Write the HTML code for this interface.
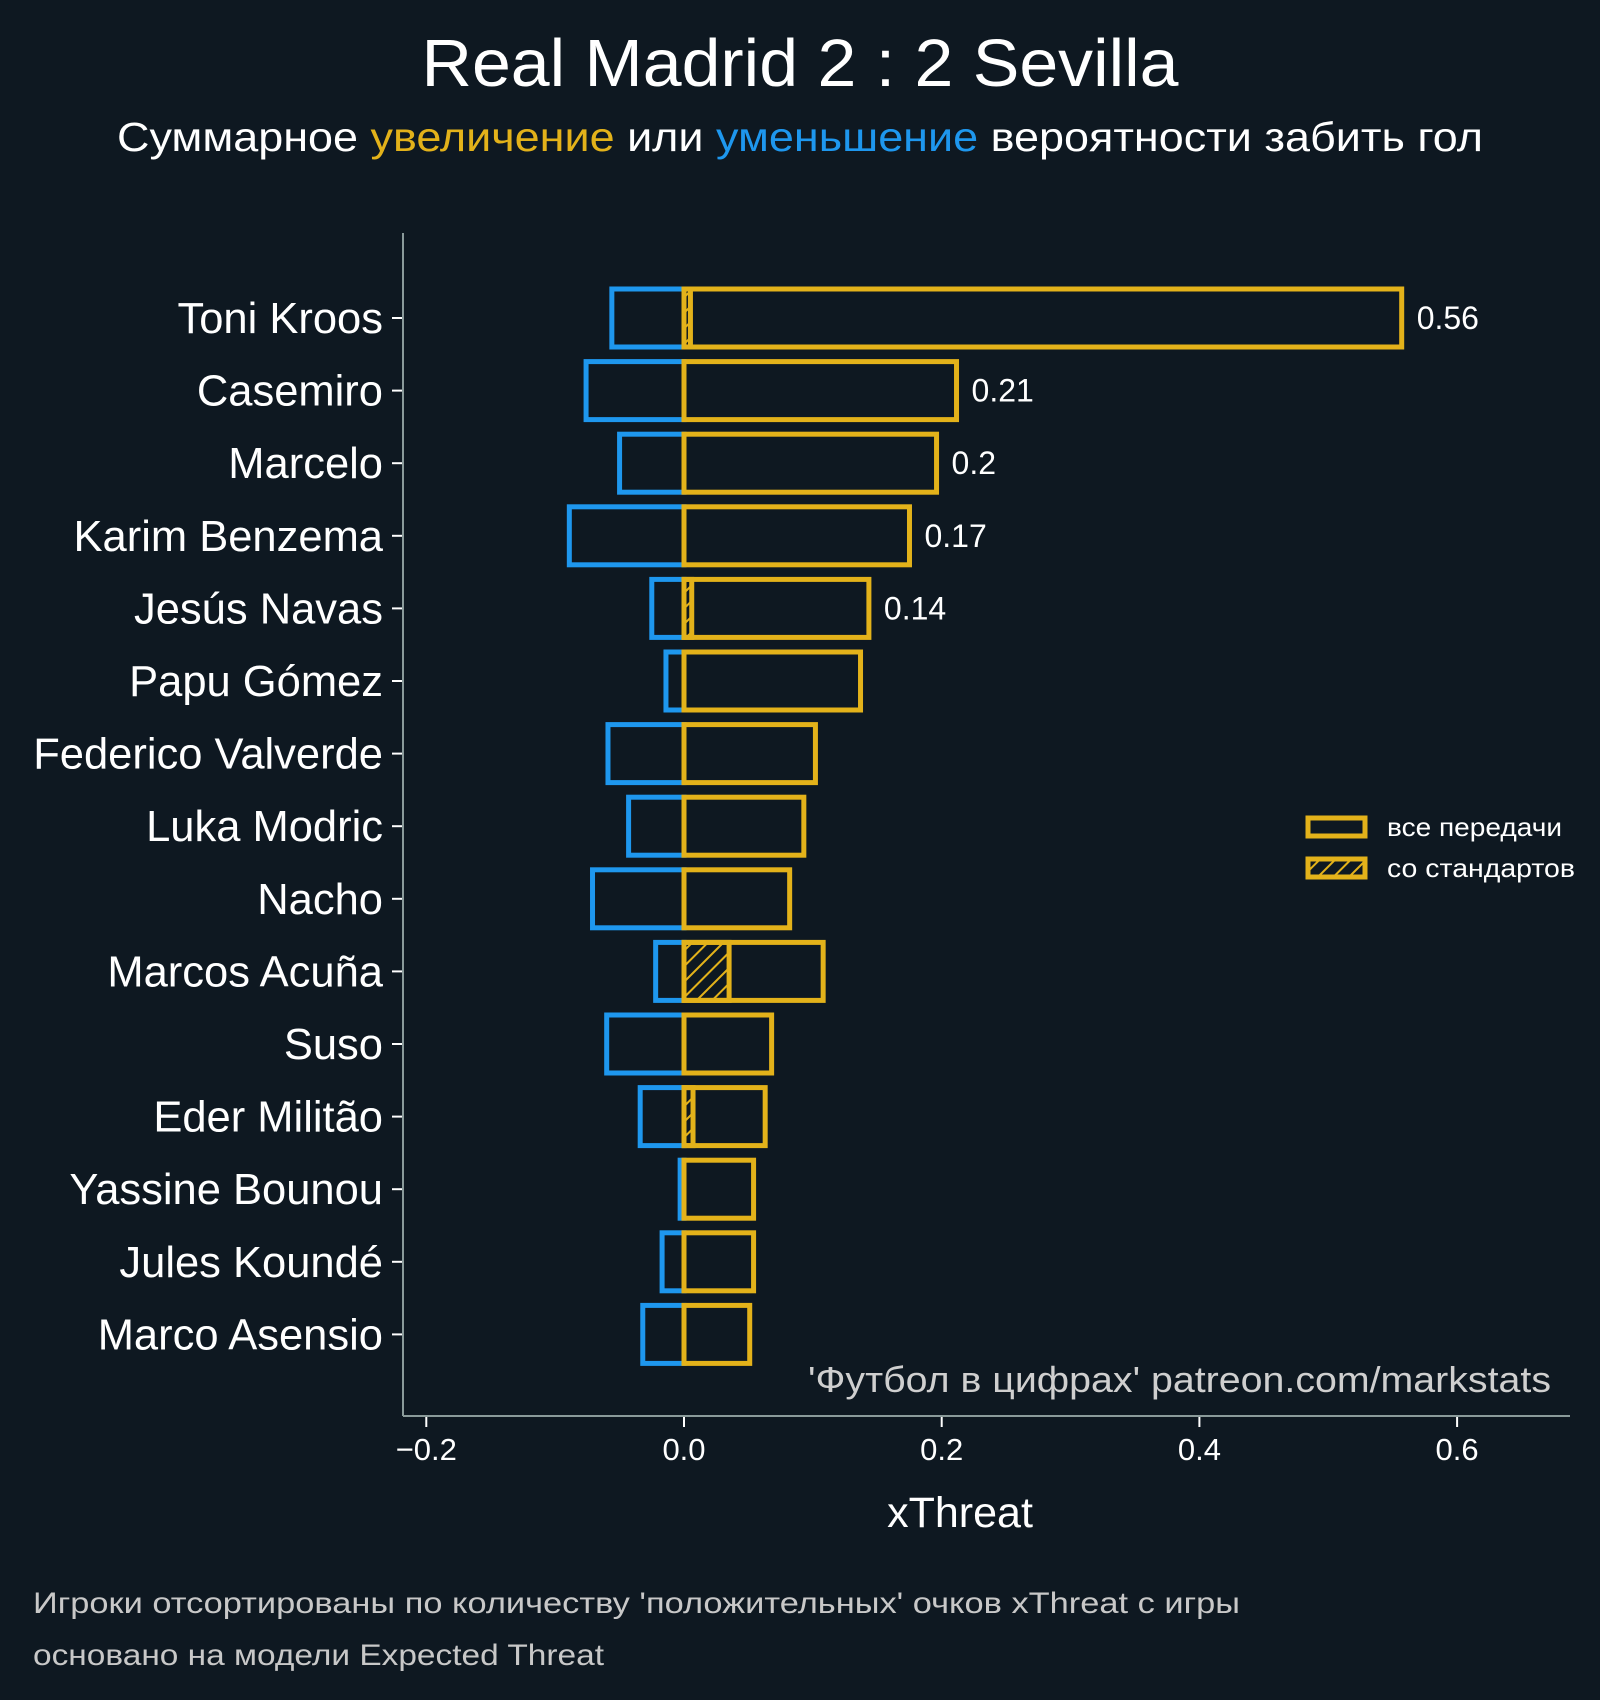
<!DOCTYPE html>
<html><head><meta charset="utf-8"><style>
html,body{margin:0;padding:0;background:#0e1821;}
svg{display:block;font-family:"Liberation Sans","DejaVu Sans",sans-serif;}
</style></head><body>
<svg id="chart" width="1600" height="1700" viewBox="0 0 1600 1700" xmlns="http://www.w3.org/2000/svg">
<defs>
<pattern id="hatch" patternUnits="userSpaceOnUse" width="11" height="11" patternTransform="rotate(45)">
<rect width="11" height="11" fill="#0e1821"/>
<line x1="0" y1="0" x2="0" y2="11" stroke="#e3b21a" stroke-width="4"/>
</pattern>
</defs>
<rect width="1600" height="1700" fill="#0e1821"/>
<text x="800" y="86" text-anchor="middle" font-size="67" fill="#ffffff" textLength="757" lengthAdjust="spacingAndGlyphs">Real Madrid 2 : 2 Sevilla</text>
<text x="800" y="151" text-anchor="middle" font-size="41" fill="#ffffff" textLength="1366" lengthAdjust="spacingAndGlyphs">Суммарное <tspan fill="#e3b21a">увеличение</tspan> или <tspan fill="#1e97ee">уменьшение</tspan> вероятности забить гол</text>
<g id="plot"></g>
<line x1="403" y1="233" x2="403" y2="1416" stroke="#8a9a9a" stroke-width="2"/>
<line x1="403" y1="1416" x2="1570" y2="1416" stroke="#8a9a9a" stroke-width="2"/>
<text x="1551" y="1392" text-anchor="end" font-size="36" fill="#cfcfcf" textLength="743" lengthAdjust="spacingAndGlyphs">'Футбол в цифрах' patreon.com/markstats</text>
<text x="960" y="1527" text-anchor="middle" font-size="43" fill="#ffffff">xThreat</text>
<text x="33" y="1613" font-size="30" fill="#c8c8c8" textLength="1207" lengthAdjust="spacingAndGlyphs">Игроки отсортированы по количеству 'положительных' очков xThreat с игры</text>
<text x="33" y="1665" font-size="30" fill="#c8c8c8" textLength="571" lengthAdjust="spacingAndGlyphs">основано на модели Expected Threat</text>
<g>
<rect x="1308" y="818" width="57" height="18" fill="#0e1821" stroke="#e3b21a" stroke-width="5"/>
<text x="1387" y="836" font-size="26" fill="#ffffff" textLength="175" lengthAdjust="spacingAndGlyphs">все передачи</text>
<rect x="1308" y="859" width="57" height="18" fill="url(#hatch)" stroke="#e3b21a" stroke-width="5"/>
<text x="1387" y="877" font-size="26" fill="#ffffff" textLength="188" lengthAdjust="spacingAndGlyphs">со стандартов</text>
</g>
</svg>
<script>
const players = ["Toni Kroos","Casemiro","Marcelo","Karim Benzema","Jesús Navas","Papu Gómez","Federico Valverde","Luka Modric","Nacho","Marcos Acuña","Suso","Eder Militão","Yassine Bounou","Jules Koundé","Marco Asensio"];
const positiveXT = [0.557,0.2115,0.196,0.175,0.1435,0.137,0.102,0.093,0.082,0.108,0.068,0.063,0.054,0.054,0.051];
const negativeXT = [-0.056,-0.076,-0.050,-0.089,-0.025,-0.014,-0.059,-0.043,-0.071,-0.022,-0.060,-0.034,-0.003,-0.017,-0.032];
const setPieceXT = [0.005,0,0,0,0.006,0,0,0,0,0.035,0,0.007,0,0,0];
const valueLabels = ["0.56","0.21","0.2","0.17","0.14","","","","","","","","","",""];
const xTicks = [-0.2,0.0,0.2,0.4,0.6];
const xTickLabels = ["−0.2","0.0","0.2","0.4","0.6"];

const NS="http://www.w3.org/2000/svg";
const X0=684, XS=1288.5, Y0=318, YS=72.6, BH=58;
const xPos=v=>X0+v*XS;
const yPos=i=>Y0+i*YS;
const plot=document.getElementById('plot');
function mk(tag,attrs){const e=document.createElementNS(NS,tag);for(const k in attrs)e.setAttribute(k,attrs[k]);plot.appendChild(e);return e;}

players.forEach((p,i)=>{
  const yc=yPos(i), yt=yc-BH/2;
  const n=mk('rect',{x:xPos(negativeXT[i]),y:yt,width:xPos(0)-xPos(negativeXT[i]),height:BH,fill:'none',stroke:'#1e97ee','stroke-width':5});
  
  
  if(setPieceXT[i]>0){
    const s=mk('rect',{x:xPos(0),y:yt,width:xPos(setPieceXT[i])-xPos(0),height:BH,fill:'url(#hatch)',stroke:'#e3b21a','stroke-width':5});
    
    
  }
  const r=mk('rect',{x:xPos(0),y:yt,width:xPos(positiveXT[i])-xPos(0),height:BH,fill:'none',stroke:'#e3b21a','stroke-width':5});
  
  
  if(valueLabels[i]){
    const t=mk('text',{x:xPos(positiveXT[i])+15,y:yc+11,'font-size':32,fill:'#ffffff'});
    t.textContent=valueLabels[i];
    
    
  }
  const tk=mk('line',{x1:392,x2:403,y1:yc,y2:yc,stroke:'#ffffff','stroke-width':2});
  
  
  const lb=mk('text',{x:383,y:yc+15,'text-anchor':'end','font-size':43.5,fill:'#ffffff'});
  lb.textContent=p;
  
  
});
xTicks.forEach((v,i)=>{
  const tk=mk('line',{x1:xPos(v),x2:xPos(v),y1:1417,y2:1427,stroke:'#ffffff','stroke-width':2});
  
  
  const t=mk('text',{x:xPos(v),y:1460,'text-anchor':'middle','font-size':31,fill:'#ffffff'});
  t.textContent=xTickLabels[i];
  
  
});
</script>
</body></html>
